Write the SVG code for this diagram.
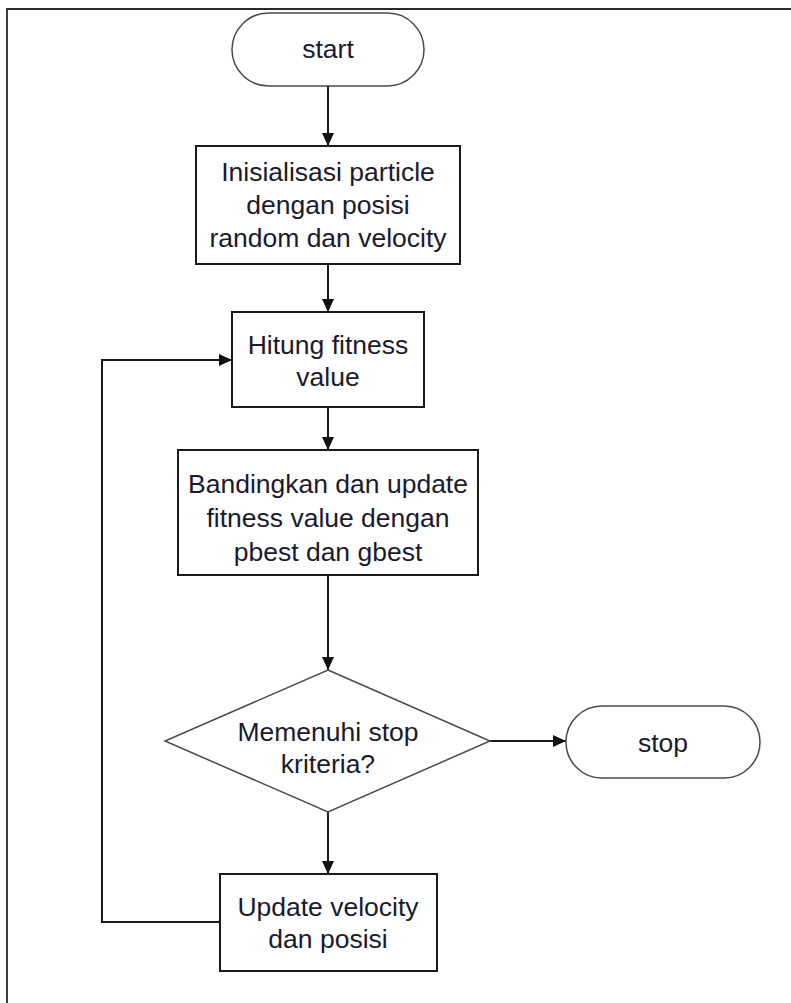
<svg xmlns="http://www.w3.org/2000/svg" width="791" height="1003" viewBox="0 0 791 1003">
  <style>
    .frame { fill: none; stroke: #2a2a2a; stroke-width: 1.8; }
    .term { fill: #ffffff; stroke: #4a4a4a; stroke-width: 1.5; }
    .proc { fill: #ffffff; stroke: #1a1a1a; stroke-width: 2; }
    .dec { fill: #ffffff; stroke: #4a4a4a; stroke-width: 1.5; }
    .lbl { font-family: "Liberation Sans", Arial, sans-serif; font-size: 26.5px; fill: #1a1a2e; text-anchor: middle; }
    .edge { fill: none; stroke: #1a1a1a; stroke-width: 2; }
  </style>
  <defs>
    <marker id="arrow" viewBox="0 0 13 12" refX="13" refY="6" markerWidth="13" markerHeight="12" markerUnits="userSpaceOnUse" orient="auto">
      <path d="M0,0 L13,6 L0,12 Z" fill="#111"/>
    </marker>
  </defs>

  <rect width="791" height="1003" fill="#ffffff"/>
  <!-- page border -->
  <path class="frame" d="M7,1003 V9 H791"/>

  <g id="connectors">
    <path class="edge" d="M328,86 V146" marker-end="url(#arrow)"/>
    <path class="edge" d="M328,264 V312" marker-end="url(#arrow)"/>
    <path class="edge" d="M328,407 V450" marker-end="url(#arrow)"/>
    <path class="edge" d="M328,575 V670" marker-end="url(#arrow)"/>
    <path class="edge" d="M490,741 H566" marker-end="url(#arrow)"/>
    <path class="edge" d="M328,812 V874" marker-end="url(#arrow)"/>
    <path class="edge" d="M220,922 H102 V360 H232" marker-end="url(#arrow)"/>
  </g>

  <g id="start">
    <rect class="term" x="232" y="13" width="192" height="73" rx="36.5"/>
    <text class="lbl" x="328" y="58">start</text>
  </g>

  <g id="init">
    <rect class="proc" x="196" y="146" width="264" height="118"/>
    <text class="lbl" x="328" y="181">Inisialisasi particle</text>
    <text class="lbl" x="328" y="214">dengan posisi</text>
    <text class="lbl" x="328" y="247">random dan velocity</text>
  </g>

  <g id="fitness">
    <rect class="proc" x="232" y="312" width="192" height="95"/>
    <text class="lbl" x="328" y="354">Hitung fitness</text>
    <text class="lbl" x="328" y="386">value</text>
  </g>

  <g id="compare">
    <rect class="proc" x="178" y="450" width="300" height="125"/>
    <text class="lbl" x="328" y="493">Bandingkan dan update</text>
    <text class="lbl" x="328" y="527">fitness value dengan</text>
    <text class="lbl" x="328" y="561">pbest dan gbest</text>
  </g>

  <g id="check">
    <polygon class="dec" points="328,670 490,741 328,812 165,741"/>
    <text class="lbl" x="328" y="741">Memenuhi stop</text>
    <text class="lbl" x="328" y="773">kriteria?</text>
  </g>

  <g id="stop">
    <rect class="term" x="566" y="706" width="194" height="72" rx="36"/>
    <text class="lbl" x="663" y="752">stop</text>
  </g>

  <g id="update">
    <rect class="proc" x="220" y="874" width="217" height="97"/>
    <text class="lbl" x="328" y="916">Update velocity</text>
    <text class="lbl" x="328" y="948">dan posisi</text>
  </g>
</svg>
